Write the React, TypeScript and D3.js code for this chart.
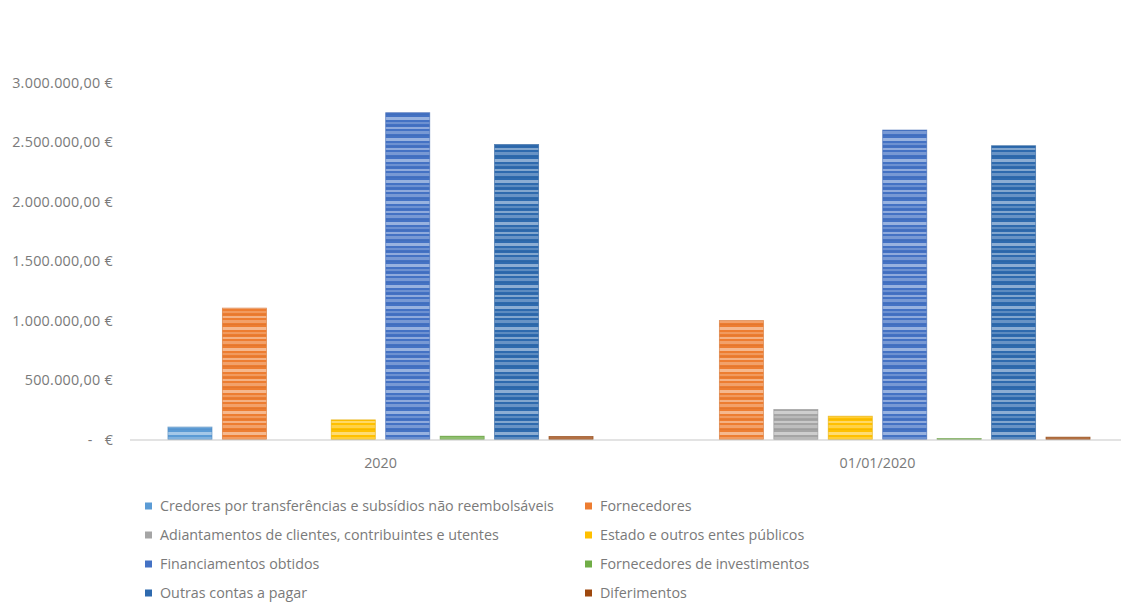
import React from "react";
import * as d3 from "d3";

const categories = ["2020", "01/01/2020"];
const seriesNames = [
  "Credores por transferências e subsídios não reembolsáveis",
  "Fornecedores",
  "Adiantamentos de clientes, contribuintes e utentes",
  "Estado e outros entes públicos",
  "Financiamentos obtidos",
  "Fornecedores de investimentos",
  "Outras contas a pagar",
  "Diferimentos",
];
const seriesColors = ["#5B9BD5", "#ED7D31", "#A5A5A5", "#FFC000", "#4472C4", "#70AD47", "#2E6AAE", "#9E480E"];
const values2020 = [105000, 1105000, 0, 165000, 2748000, 28000, 2481000, 25000];
const values0101 = [0, 1000000, 252000, 196000, 2602000, 8000, 2470000, 20000];
const yTicks = [0, 500000, 1000000, 1500000, 2000000, 2500000, 3000000];

const W = 1121;
const H = 604;
const FONT = "'Open Sans', sans-serif";
const TEXT = "#7a7a7a";
const FS = 14.3;

const locale = d3.formatLocale({ decimal: ",", thousands: ".", grouping: [3], currency: ["", " €"] });
const fmt = locale.format(",.2f");

export default function App() {
  const dataByCat = [values2020, values0101];
  const x0 = d3.scaleBand<string>().domain(categories).range([132, 1126]).padding(0);
  const x1 = d3
    .scaleBand<string>()
    .domain(seriesNames)
    .range([0, x0.bandwidth()])
    .paddingInner(0.19)
    .paddingOuter(0.66);
  const y = d3.scaleLinear().domain([0, 3000000]).range([439.5, 82.7]);

  const legendCols = [145, 585];
  const legendRows = [506, 535, 564, 593];

  return (
    <svg
      width={W}
      height={H}
      style={{ position: "absolute", left: 0, top: 0, background: "#fff" }}
      fontFamily={FONT}
    >
      <defs>
        {seriesColors.map((c, i) => {
          const dark = d3.color(c)!.darker(0.4).formatHex();
          return (
            <pattern key={i} id={`p${i}`} patternUnits="userSpaceOnUse" width={60} height={21}>
              <rect x={0} y={0} width={60} height={21} fill={c} />
              <rect x={0} y={1} width={60} height={2} fill="#fff" opacity={0.4} />
              <rect x={0} y={5} width={60} height={3} fill="#fff" opacity={0.28} />
              <rect x={0} y={9} width={60} height={1} fill={dark} opacity={0.3} />
              <rect x={0} y={12} width={60} height={3} fill="#fff" opacity={0.45} />
              <rect x={0} y={17} width={60} height={2} fill="#fff" opacity={0.22} />
              <rect x={0} y={20} width={60} height={1} fill={dark} opacity={0.25} />
            </pattern>
          );
        })}
      </defs>

      {/* y axis labels */}
      {yTicks.map((t) =>
        t === 0 ? (
          <g key={t}>
            <text x={90} y={y(t)} dy="0.35em" fontSize={FS} fill={TEXT} textAnchor="middle">
              -
            </text>
            <text x={113} y={y(t)} dy="0.35em" fontSize={FS} fill={TEXT} textAnchor="end">
              €
            </text>
          </g>
        ) : (
          <text
            key={t}
            x={113}
            y={y(t)}
            dy="0.35em"
            fontSize={FS}
            fill={TEXT}
            textAnchor="end"
            letterSpacing={0.3}
          >
            {fmt(t) + " €"}
          </text>
        )
      )}

      {/* bars */}
      {categories.map((cat, ci) => (
        <g key={cat} transform={`translate(${x0(cat)},0)`}>
          {seriesNames.map((s, si) => {
            const v = dataByCat[ci][si];
            if (v <= 0) return null;
            const top = y(v);
            const h = y(0) - top;
            return (
              <rect
                key={s}
                x={x1(s)}
                y={top}
                width={x1.bandwidth()}
                height={h}
                fill={`url(#p${si})`}
                stroke={d3.color(seriesColors[si])!.darker(0.3).formatHex()}
                strokeWidth={0.8}
                strokeOpacity={0.7}
              />
            );
          })}
        </g>
      ))}

      {/* baseline */}
      <line x1={130} x2={W} y1={y(0) + 0.5} y2={y(0) + 0.5} stroke="#c8c8c8" strokeWidth={1.2} />

      {/* x labels */}
      {categories.map((cat) => (
        <text
          key={cat}
          x={(x0(cat) ?? 0) + x0.bandwidth() / 2}
          y={463}
          dy="0.35em"
          fontSize={FS}
          fill={TEXT}
          textAnchor="middle"
        >
          {cat}
        </text>
      ))}

      {/* legend */}
      {seriesNames.map((s, i) => {
        const cx = legendCols[i % 2];
        const cy = legendRows[Math.floor(i / 2)];
        return (
          <g key={s}>
            <rect x={cx} y={cy - 3.5} width={7} height={7} fill={seriesColors[i]} />
            <text x={cx + 15} y={cy} dy="0.35em" fontSize={FS} fill={TEXT}>
              {s}
            </text>
          </g>
        );
      })}
    </svg>
  );
}
